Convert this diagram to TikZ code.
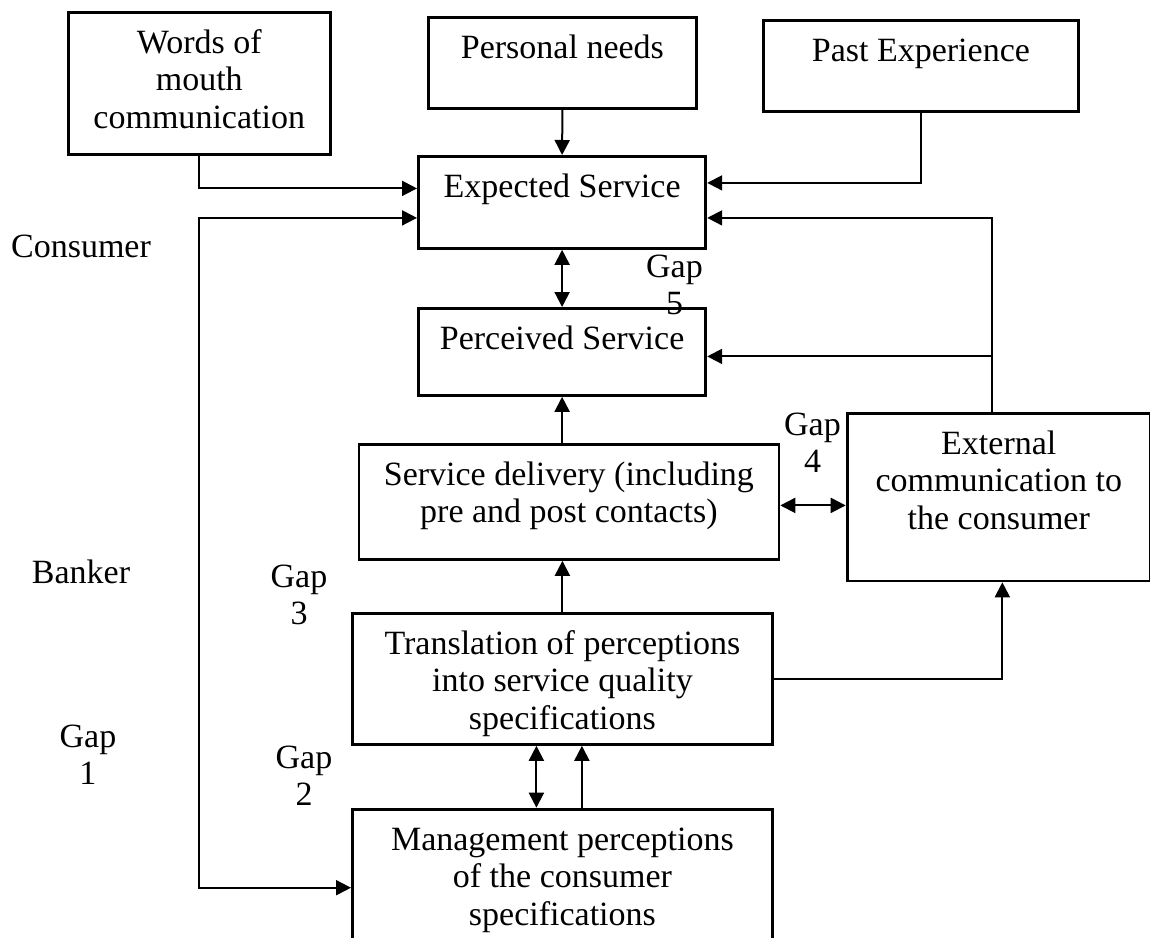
\documentclass[tikz,border=0pt]{standalone}
\usepackage{fontspec}
\setmainfont{Liberation Serif}
\usepackage{tikz}
\usetikzlibrary{arrows.meta}

\begin{document}
\begin{tikzpicture}[x=0.5pt, y=-0.5pt, >={Triangle[length=7.5pt, width=7.5pt]},
        box/.style={draw, line width=1.4pt, inner sep=0pt, anchor=north west, align=flush center, text height=20.5pt, font=\fontsize{17}{18.75}\selectfont},
        side/.style={inner sep=0pt, anchor=base, align=flush center, text width=80pt, font=\fontsize{17}{18.75}\selectfont},
        link/.style={line width=1pt}]
        \useasboundingbox (0,0) rectangle (1150,937);
        \clip (0,0) rectangle (1150,937);

        \node[box, text width=131.15pt, text depth=50.5pt] (words) at (66.7,11) {Words of\\ mouth\\ communication};
        \node[box, text width=134pt, text depth=25pt] (needs) at (427,16) {Personal needs};
        \node[box, text width=157.5pt, text depth=25pt] (past) at (762,19) {Past Experience};
        \node[box, text width=143.7pt, text depth=25.5pt] (expected) at (417,155) {Expected Service};
        \node[box, text width=143.7pt, text depth=23pt] (perceived) at (417,307) {Perceived Service};
        \node[box, text width=210pt, text depth=37pt] (delivery) at (357.5,443) {Service delivery (including\\ pre and post contacts)};
        \node[box, text width=151.65pt, text depth=63.4pt] (external) at (845.7,411.7) {External\\ communication to\\ the consumer};
        \node[box, text width=210pt, text depth=45pt] (translation) at (351,612) {Translation of perceptions\\ into service quality\\ specifications};
        \node[box, text width=210pt, text depth=59.5pt] (mgmt) at (351,807.7) {Management perceptions\\ of the consumer\\ specifications};

        \node[side] (consumer) at (81,257) {Consumer};
        \node[side] (banker) at (81,583) {Banker};
        \node[side] (gap1) at (88,747) {Gap\\ 1};
        \node[side] (gap2) at (304,768) {Gap\\ 2};
        \node[side] (gap3) at (299,587) {Gap\\ 3};
        \node[side] (gap4) at (812.5,435) {Gap\\ 4};
        \node[side] (gap5) at (674.5,277) {Gap\\ 5};

        \coordinate (mgmtin) at ([yshift=-40pt]mgmt.north west);
        \coordinate (extup) at ([xshift=-3.5pt]external.north);
        \coordinate (percin) at ([yshift=-2.25pt]perceived.east);
        \coordinate (delout) at ([yshift=-1.75pt]delivery.east);

        \draw[link, ->] (words.south) |- ([yshift=7pt]expected.west);
        \draw[link, <->] ([yshift=-7.75pt]expected.west) -| (words.south |- mgmtin) -- (mgmtin);
        \draw[link, ->] (needs.south) -- (expected.north);
        \draw[link, ->] (past.south) |- ([yshift=9.75pt]expected.east);
        \draw[link, ->] (extup) |- ([yshift=-7.75pt]expected.east);
        \draw[link, ->] (extup |- percin) -- (percin);
        \draw[link, <->] (expected.south) -- (perceived.north);
        \draw[link, ->] (perceived.south |- delivery.north) -- (perceived.south);
        \draw[link, <->] (delout) -- (delout -| external.west);
        \draw[link, ->] (translation.north) -- (translation.north |- delivery.south);
        \draw[link, ->] (translation.east) -| ([xshift=1.8pt]external.south);
        \draw[link, <->] ([xshift=-13pt]translation.south) -- ([xshift=-13pt]mgmt.north);
        \draw[link, ->] ([xshift=9.75pt]mgmt.north) -- ([xshift=9.75pt]translation.south);
    \end{tikzpicture}
\end{document}
